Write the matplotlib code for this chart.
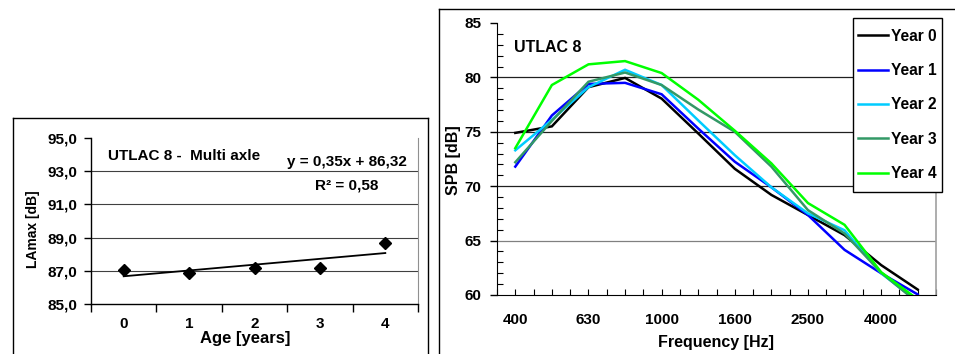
import numpy as np
import matplotlib
matplotlib.use("Agg")
import matplotlib.pyplot as plt
from matplotlib.lines import Line2D
from matplotlib.patches import Rectangle
from matplotlib.ticker import FixedLocator, MultipleLocator, FuncFormatter

plt.rcParams['font.family'] = ['Liberation Sans', 'DejaVu Sans']
plt.rcParams['font.weight'] = 'bold'

# ---------------- data ----------------
ages = [0, 1, 2, 3, 4]
lamax = [87.05, 86.85, 87.15, 87.15, 88.65]
lamax_ticks = [85, 87, 89, 91, 93, 95]

bands = ['400', '500', '630', '800', '1000', '1250', '1600', '2000', '2500', '3150', '4000', '5000']
year0 = [74.9, 75.5, 79.1, 79.95, 78.05, 74.85, 71.6, 69.2, 67.35, 65.5, 62.75, 60.5]
year1 = [71.8, 76.5, 79.4, 79.5, 78.45, 75.3, 72.25, 69.9, 67.35, 64.15, 62.0, 60.05]
year2 = [73.3, 76.1, 79.1, 80.7, 79.3, 76.05, 72.85, 69.9, 67.5, 65.95, 62.0, 59.4]
year3 = [72.2, 76.0, 79.6, 80.45, 79.3, 77.05, 75.0, 71.8, 67.8, 65.65, 62.05, 59.3]
year4 = [73.5, 79.3, 81.2, 81.5, 80.4, 77.95, 75.1, 72.1, 68.45, 66.45, 62.1, 59.6]
series = [year0, year1, year2, year3, year4]
labels = ['Year 0', 'Year 1', 'Year 2', 'Year 3', 'Year 4']
colors = ['#000000', '#0000FF', '#00CCFF', '#339966', '#00FF00']

W, H = 955, 354
fig = plt.figure(figsize=(W / 100, H / 100), dpi=100)


def rect(x0, y0, x1, y1):
    return [x0 / W, 1 - y1 / H, (x1 - x0) / W, (y1 - y0) / H]


def fxy(x, y):
    return x / W, 1 - y / H


# outer chart frames
for xs, ys in [([12.5, 12.5], [354, 117.5]), ([12.5, 428], [117.5, 117.5]), ([428, 428], [117.5, 354]),
               ([438.5, 438.5], [354, 9.3]), ([438.5, 955], [9.3, 9.3])]:
    fig.add_artist(Line2D([x / W for x in xs], [1 - y / H for y in ys], color='black', lw=1.0))

# ---------------- left chart ----------------
ax1 = fig.add_axes(rect(91, 138, 418, 304))
ax1.set_xlim(-0.5, 4.5)
ax1.set_ylim(85, 95)
ax1.plot(ages, lamax, linestyle='none', marker='D', markersize=6.5, color='black', zorder=4)
xfit = np.arange(1, 6)
slope, intercept = np.polyfit(xfit, lamax, 1)
pred = slope * xfit + intercept
r2 = 1 - np.sum((np.array(lamax) - pred) ** 2) / np.sum((np.array(lamax) - np.mean(lamax)) ** 2)
ax1.plot(ages, pred, color='black', lw=1.3, zorder=3)

for v in lamax_ticks[1:-1]:
    ax1.axhline(v, color='#404040', lw=0.8, zorder=1)
ax1.spines['top'].set_visible(False)
ax1.spines['right'].set_color('#909090')
ax1.spines['left'].set_linewidth(1.0)
ax1.spines['bottom'].set_linewidth(1.0)
ax1.yaxis.set_major_locator(FixedLocator(lamax_ticks))
ax1.yaxis.set_major_formatter(FuncFormatter(lambda v, p: f"{v:.1f}".replace('.', ',')))
ax1.tick_params(axis='y', direction='out', length=5, width=1, pad=5, labelsize=11)
ax1.set_xticks(ages)
ax1.set_xticklabels([str(a) for a in ages])
ax1.xaxis.set_minor_locator(FixedLocator(np.arange(-0.5, 4.51, 1.0)))
ax1.tick_params(axis='x', which='major', length=0, pad=9, labelsize=11)
ax1.tick_params(axis='x', which='minor', direction='out', length=6, width=1)
fig.text(*fxy(245, 339), 'Age [years]', ha='center', va='center', fontsize=12, fontweight='bold')
fig.text(*fxy(33, 229), 'LAmax [dB]', ha='center', va='center', rotation=90, fontsize=10, fontweight='bold')
fig.text(*fxy(108, 156), 'UTLAC 8 -  Multi axle', ha='left', va='center', fontsize=11, fontweight='bold')
fig.text(*fxy(407, 162), f"y = {slope:.2f}x + {intercept:.2f}".replace('.', ','), ha='right', va='center',
         fontsize=11, fontweight='bold')
fig.text(*fxy(315, 185), f"R² = {r2:.2f}".replace('.', ','), ha='left', va='center', fontsize=11,
         fontweight='bold')

# ---------------- right chart ----------------
ax2 = fig.add_axes(rect(497, 23, 936, 295))
xpos = np.arange(len(bands))
for s, lab, c in zip(series, labels, colors):
    ax2.plot(xpos, s, color=c, lw=1.8, label=lab, solid_joinstyle='miter')
ax2.set_xlim(-0.5, len(bands) - 0.5)
ax2.set_ylim(60, 85)
for v, c in [(65, '#808080'), (70, '#202020'), (75, '#202020'), (80, '#202020')]:
    ax2.axhline(v, color=c, lw=0.9, zorder=0.5)
ax2.spines['top'].set_visible(False)
ax2.spines['right'].set_color('#a0a0a0')
ax2.spines['right'].set_linewidth(1.2)
ax2.yaxis.set_major_locator(MultipleLocator(5))
ax2.yaxis.set_minor_locator(MultipleLocator(1))
ax2.tick_params(axis='y', which='major', direction='out', length=5, width=1, pad=6, labelsize=11)
ax2.tick_params(axis='y', which='minor', direction='in', length=4, width=0.8)
ax2.set_xticks(xpos[::2])
ax2.set_xticklabels(bands[::2])
ax2.xaxis.set_minor_locator(FixedLocator(np.arange(-0.5, len(bands) - 0.49, 0.5)))
ax2.tick_params(axis='x', which='both', direction='in', length=4, width=0.8)
ax2.tick_params(axis='x', which='major', pad=13, labelsize=11)
fig.text(*fxy(716, 343), 'Frequency [Hz]', ha='center', va='center', fontsize=11.5, fontweight='bold')
fig.text(*fxy(453, 160), 'SPB [dB]', ha='center', va='center', rotation=90, fontsize=11.5, fontweight='bold')
fig.text(*fxy(514, 47), 'UTLAC 8', ha='left', va='center', fontsize=11.5, fontweight='bold')

# legend box + legend
x0, y0, x1, y1 = 852.7, 18, 941.7, 192
box = Rectangle((x0 / W, 1 - y1 / H), (x1 - x0) / W, (y1 - y0) / H, transform=fig.transFigure,
                facecolor='white', edgecolor='black', lw=1.0, clip_on=False, zorder=4.9)
ax2.add_patch(box)
leg = ax2.legend(loc='center left', bbox_to_anchor=fxy(858, 105), bbox_transform=fig.transFigure,
                 borderaxespad=0, frameon=False, fontsize=11.2, handlelength=1.9, handletextpad=0.2,
                 labelspacing=1.25, borderpad=0)
leg.set_zorder(5)
for t in leg.get_texts():
    t.set_fontweight('bold')

fig.savefig('out.png', dpi=100)
